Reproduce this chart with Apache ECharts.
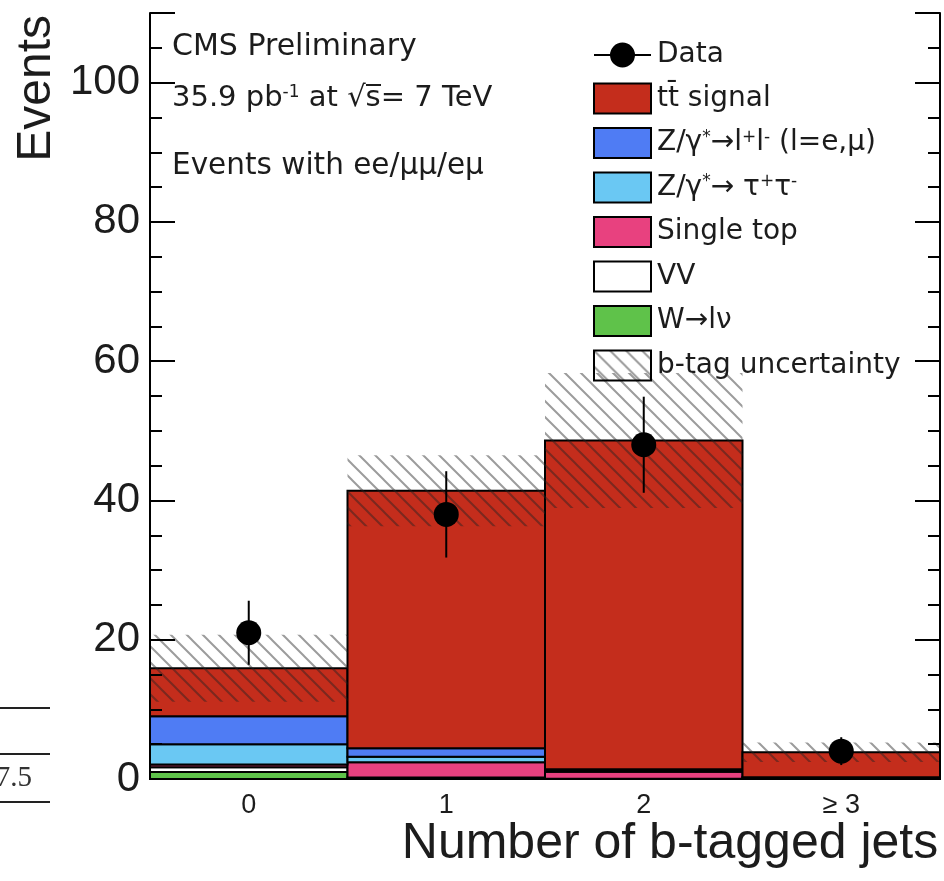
<!DOCTYPE html>
<html>
<head>
<meta charset="utf-8">
<script src="https://cdn.jsdelivr.net/npm/echarts@6/dist/echarts.min.js"></script>
<style>
  html, body { margin: 0; padding: 0; background: #fff; }
  #chart { width: 944px; height: 881px; }
</style>
</head>
<body>
<div id="chart"></div>
<script>
// Bins of the b-jet multiplicity
const categories = ['0', '1', '2', '≥ 3'];

// Expected events per bin, per process (stacked bottom to top)
const wLnu      = [1.0, 0.05, 0.0, 0.0];
const diboson   = [0.7, 0.15, 0.05, 0.0];
const singleTop = [0.4, 2.2, 1.0, 0.2];
const zTauTau   = [2.9, 0.8, 0.15, 0.0];
const zLL       = [4.0, 1.2, 0.2, 0.05];
const ttSignal  = [6.9, 37.0, 47.2, 3.6];

// b-tag systematic band (symmetric, around the total expectation)
const btagUnc = [4.8, 5.1, 9.7, 1.4];

// Observed events and their statistical errors
const dataCounts = [21, 38, 48, 4];
const dataErr    = [4.6, 6.2, 6.9, 2.0];

const TEXT = '#1c1c1c';

// stacked components: [name, values, colour]
const components = [
  ['W→lν', wLnu, '#5fc24a'],
  ['VV', diboson, '#ffffff'],
  ['Single top', singleTop, '#e8417f'],
  ['Z/γ*→ τ+τ-', zTauTau, '#6ac8f3'],
  ['Z/γ*→l+l- (l=e,μ)', zLL, '#4f7cf4'],
  ['tt̄ signal', ttSignal, '#c42d1c']
];

// diagonal hatch used for the uncertainty band
function makeHatch() {
  const s = 16;
  const c = document.createElement('canvas');
  c.width = s; c.height = s;
  const g = c.getContext('2d');
  g.strokeStyle = 'rgba(35,35,35,0.45)';
  g.lineWidth = 2;
  g.beginPath();
  g.moveTo(-2, -2); g.lineTo(s + 2, s + 2);
  g.moveTo(-2, s - 2); g.lineTo(2, s + 2);
  g.moveTo(s - 2, -2); g.lineTo(s + 2, 2);
  g.stroke();
  return c;
}
const hatch = { image: makeHatch(), repeat: 'repeat' };

function histRect(params, api) {
  const i = api.value(0);
  const top = api.coord([i, api.value(2)]);
  const bot = api.coord([i, api.value(1)]);
  const w = api.size([1, 0])[0];
  return {
    type: 'rect',
    shape: { x: top[0] - w / 2, y: top[1], width: w, height: bot[1] - top[1] },
    style: api.style()
  };
}

function dataPoint(params, api) {
  const i = api.value(0), v = api.value(1), e = api.value(2);
  const c = api.coord([i, v]);
  const hi = api.coord([i, v + e]);
  const lo = api.coord([i, v - e]);
  return {
    type: 'group',
    children: [
      { type: 'line', shape: { x1: c[0], y1: hi[1], x2: c[0], y2: lo[1] }, style: { stroke: '#000', lineWidth: 2 } },
      { type: 'circle', shape: { cx: c[0], cy: c[1], r: 12.5 }, style: { fill: '#000' } }
    ]
  };
}

const series = [];
const cum = categories.map(() => 0);
components.forEach(([name, vals, color]) => {
  const rows = categories.map((c, i) => {
    const lo = cum[i];
    cum[i] += vals[i];
    return [i, lo, cum[i]];
  });
  series.push({
    type: 'custom', name, renderItem: histRect, data: rows,
    encode: { x: 0, y: [1, 2] },
    itemStyle: { color, borderColor: '#000', borderWidth: 2 },
    emphasis: { disabled: true }, z: 2
  });
});

series.push({
  type: 'custom', name: 'b-tag uncertainty', renderItem: histRect,
  data: categories.map((c, i) => [i, cum[i] - btagUnc[i], cum[i] + btagUnc[i]]),
  encode: { x: 0, y: [1, 2] },
  itemStyle: { color: hatch, borderWidth: 0 },
  emphasis: { disabled: true }, z: 3
});

series.push({
  type: 'custom', name: 'Data', renderItem: dataPoint,
  data: categories.map((c, i) => [i, dataCounts[i], dataErr[i]]),
  encode: { x: 0, y: 1 },
  itemStyle: { color: '#000' },
  emphasis: { disabled: true }, z: 4
});

const legendText = {
  'Data': 'Data',
  'tt̄ signal': 'tt̄ signal',
  'Z/γ*→l+l- (l=e,μ)': 'Z/γ{sup|*}→l{sup|+}l{sup|-} (l=e,μ)',
  'Z/γ*→ τ+τ-': 'Z/γ{sup|*}→ τ{sup|+}τ{sup|-}',
  'Single top': 'Single top',
  'VV': 'VV',
  'W→lν': 'W→lν',
  'b-tag uncertainty': 'b-tag uncertainty'
};

const dataIcon = 'path://M0,0 M57,30 M0,14 L57,14 L57,16 L0,16 Z M41,15 A12.5,12.5 0 1 1 16,15 A12.5,12.5 0 1 1 41,15 Z';

const tickStyle = { color: '#000', width: 2 };
const lineStyle = { color: '#000', width: 2 };

const chart = echarts.init(document.getElementById('chart'), null, { renderer: 'canvas' });
chart.setOption({
  animation: false,
  backgroundColor: '#fff',
  grid: { left: 150, right: 4, top: 13, bottom: 102, containLabel: false, outerBoundsMode: 'none' },
  legend: {
    orient: 'vertical', left: 588, top: 35,
    itemWidth: 57, itemHeight: 30, itemGap: 12.5,
    selectedMode: false,
    itemStyle: { borderColor: '#000', borderWidth: 2 },
    textStyle: {
      fontFamily: 'DejaVu Sans', fontSize: 28, color: TEXT, padding: [0, 0, 0, 1],
      rich: { sup: { fontFamily: 'DejaVu Sans', fontSize: 17, color: TEXT, verticalAlign: 'top' } }
    },
    formatter: name => legendText[name] || name,
    data: [
      { name: 'Data', icon: dataIcon, itemStyle: { color: '#000', borderWidth: 0 } },
      { name: 'tt̄ signal', icon: 'rect' },
      { name: 'Z/γ*→l+l- (l=e,μ)', icon: 'rect' },
      { name: 'Z/γ*→ τ+τ-', icon: 'rect' },
      { name: 'Single top', icon: 'rect' },
      { name: 'VV', icon: 'rect' },
      { name: 'W→lν', icon: 'rect' },
      { name: 'b-tag uncertainty', icon: 'rect' }
    ]
  },
  xAxis: [
    {
      type: 'category', data: categories, position: 'bottom', z: 10,
      axisLine: { lineStyle },
      axisTick: { inside: true, length: 24, alignWithLabel: true, lineStyle: tickStyle },
      axisLabel: { fontFamily: 'Liberation Sans', fontSize: 27, color: TEXT, margin: 13 },
      splitLine: { show: false },
      name: 'Number of b-tagged jets', nameLocation: 'middle', nameGap: 40, nameMoveOverlap: false,
      nameTextStyle: {
        fontFamily: 'Liberation Sans', fontSize: 50, color: TEXT,
        align: 'center', verticalAlign: 'top', padding: [0, 0, 0, 250]
      }
    },
    {
      type: 'category', data: categories, position: 'top', z: 10,
      axisLine: { lineStyle },
      axisTick: { inside: true, length: 24, alignWithLabel: true, lineStyle: tickStyle },
      axisLabel: { show: false }, splitLine: { show: false }
    }
  ],
  yAxis: [
    {
      type: 'value', min: 0, max: 110, interval: 20, position: 'left', z: 10,
      axisLine: { show: true, lineStyle },
      axisTick: { show: true, inside: true, length: 25, lineStyle: tickStyle },
      axisLabel: {
        fontFamily: 'Liberation Sans', fontSize: 42, color: TEXT, margin: 10,
        formatter: v => (v > 100 ? '' : String(v))
      },
      splitLine: { show: false },
      name: 'Events', nameLocation: 'end', nameRotate: 90, nameGap: -2,
      nameTextStyle: {
        fontFamily: 'Liberation Sans', fontSize: 48, color: TEXT,
        align: 'right', verticalAlign: 'bottom', padding: [0, 0, 89, 0]
      }
    },
    {
      type: 'value', min: 0, max: 110, interval: 5, position: 'left', z: 10,
      axisLine: { show: false },
      axisTick: { show: true, inside: true, length: 12, lineStyle: tickStyle },
      axisLabel: { show: false }, splitLine: { show: false }
    },
    {
      type: 'value', min: 0, max: 110, interval: 20, position: 'right', z: 10,
      axisLine: { show: true, lineStyle },
      axisTick: { show: true, inside: true, length: 25, lineStyle: tickStyle },
      axisLabel: { show: false }, splitLine: { show: false }
    },
    {
      type: 'value', min: 0, max: 110, interval: 5, position: 'right', z: 10,
      axisLine: { show: false },
      axisTick: { show: true, inside: true, length: 12, lineStyle: tickStyle },
      axisLabel: { show: false }, splitLine: { show: false }
    }
  ],
  graphic: [
    { type: 'text', left: 172, top: 32, z: 20,
      style: { text: 'CMS Preliminary', fontFamily: 'DejaVu Sans', fontSize: 30, fill: TEXT } },
    { type: 'text', left: 172, top: 84, z: 20,
      style: {
        text: '35.9 pb{sup|-1} at √s\u0305= 7 TeV', fontFamily: 'DejaVu Sans', fontSize: 29, fill: TEXT,
        rich: { sup: { fontFamily: 'DejaVu Sans', fontSize: 17, fill: TEXT, verticalAlign: 'top' } }
      } },
    { type: 'text', left: 172, top: 151, z: 20,
      style: { text: 'Events with ee/μμ/eμ', fontFamily: 'DejaVu Sans', fontSize: 29.5, fill: TEXT } },
    // fragment of a neighbouring table at the left edge
    { type: 'line', shape: { x1: 0, y1: 708, x2: 50, y2: 708 }, style: { stroke: '#222', lineWidth: 2 } },
    { type: 'line', shape: { x1: 0, y1: 754, x2: 50, y2: 754 }, style: { stroke: '#222', lineWidth: 2 } },
    { type: 'line', shape: { x1: 0, y1: 802, x2: 50, y2: 802 }, style: { stroke: '#222', lineWidth: 2 } },
    { type: 'text', x: 32, y: 778, z: 20,
      style: { text: '7.5', fontFamily: 'Liberation Serif', fontSize: 29, fill: '#333', align: 'right', verticalAlign: 'middle' } }
  ],
  series
});
</script>
</body>
</html>
